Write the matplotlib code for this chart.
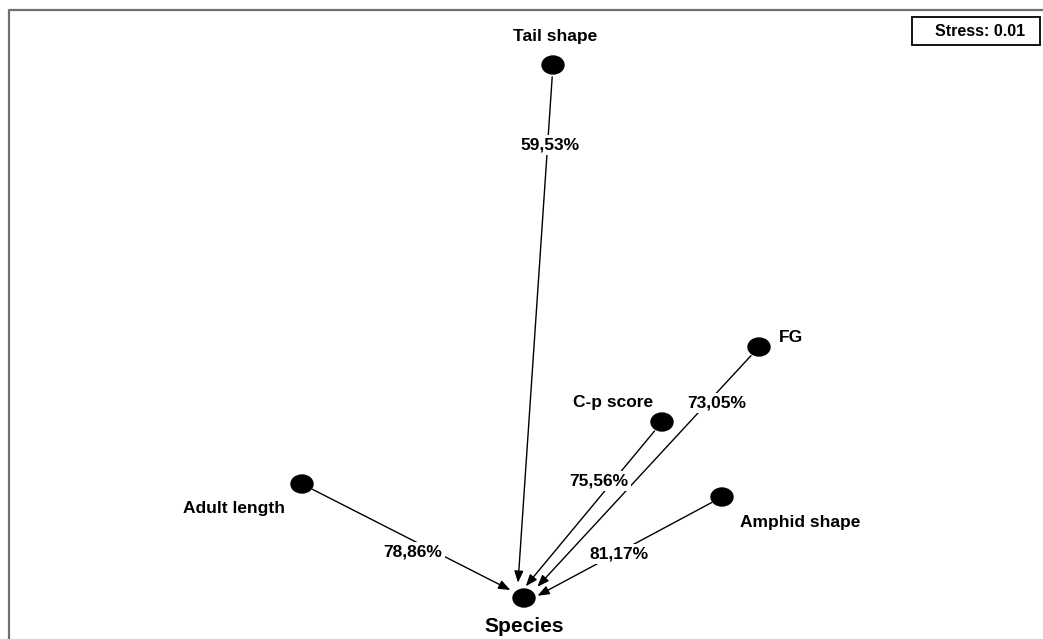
import matplotlib
matplotlib.use('Agg')
import matplotlib.pyplot as plt
from matplotlib.patches import Ellipse, Rectangle

# MDS node coordinates (plot units, y grows downward)
names = ['Tail shape', 'FG', 'C-p score', 'Adult length', 'Amphid shape']
node_x = [553, 759, 662, 302, 722]
node_y = [65, 347, 422, 484, 497]
percents = ['59,53%', '73,05%', '75,56%', '78,86%', '81,17%']
target_name = 'Species'
target_x = 524
target_y = 598
stress = 'Stress: 0.01'

# where each label sits relative to its node / its arrow
name_off = [(2, -29, 'center'), (20, -10, 'left'), (-49, -20, 'center'),
            (-68, 25, 'center'), (78, 26, 'center')]
pct_pos = [(0.146, 1, 2), (0.22, 9, 1), (0.33, -18, 1), (0.49, 2, 12), (0.525, 1, 4)]
# arrows aim slightly off the node centre, as in the original drawing
aim_off = [(-7, 0), (3, 0), (-8, 0), (0, -1), (0, 5)]

plt.rcParams['font.family'] = ['Liberation Sans', 'DejaVu Sans']

fig = plt.figure(figsize=(10.43, 6.39), dpi=100)
ax = fig.add_axes([0, 0, 1, 1])
ax.set_xlim(0, 1043)
ax.set_ylim(639, 0)
ax.axis('off')

# outer frame (left and top visible)
ax.plot([8.5, 8.5, 1043], [639, 9.5, 9.5], color='#707070', lw=1.6, solid_capstyle='butt')

# arrows from each variable to Species
for i in range(len(names)):
    ax.annotate('', xy=(target_x + aim_off[i][0], target_y + aim_off[i][1]),
                xytext=(node_x[i], node_y[i]),
                arrowprops=dict(arrowstyle='-|>,head_length=0.7,head_width=0.27',
                                color='black', lw=1.0, shrinkA=8.5, shrinkB=11),
                zorder=2)

# percentage labels on the arrows
for i in range(len(names)):
    t, dx, dy = pct_pos[i]
    lx = node_x[i] + (target_x - node_x[i]) * t + dx
    ly = node_y[i] + (target_y - node_y[i]) * t + dy
    ax.text(lx, ly, percents[i], ha='center', va='center', fontsize=12.5,
            fontweight='bold', zorder=3,
            bbox=dict(boxstyle='square,pad=0.15', fc='white', ec='none'))

# nodes
for i in range(len(names)):
    ax.add_patch(Ellipse((node_x[i], node_y[i]), 22, 18, color='black', zorder=4))
    ox, oy, ha = name_off[i]
    ax.text(node_x[i] + ox, node_y[i] + oy, names[i], ha=ha, va='center',
            fontsize=12.5, fontweight='bold')

ax.add_patch(Ellipse((target_x, target_y), 22, 18, color='black', zorder=4))
ax.text(target_x, target_y + 28, target_name, ha='center', va='center',
        fontsize=15, fontweight='bold')

# stress box
ax.add_patch(Rectangle((911.5, 17), 128, 28, fill=False, ec='black', lw=1.3))
ax.text(980, 31.5, stress, ha='center', va='center', fontsize=11.5, fontweight='bold')

fig.savefig('out.png', dpi=100)
